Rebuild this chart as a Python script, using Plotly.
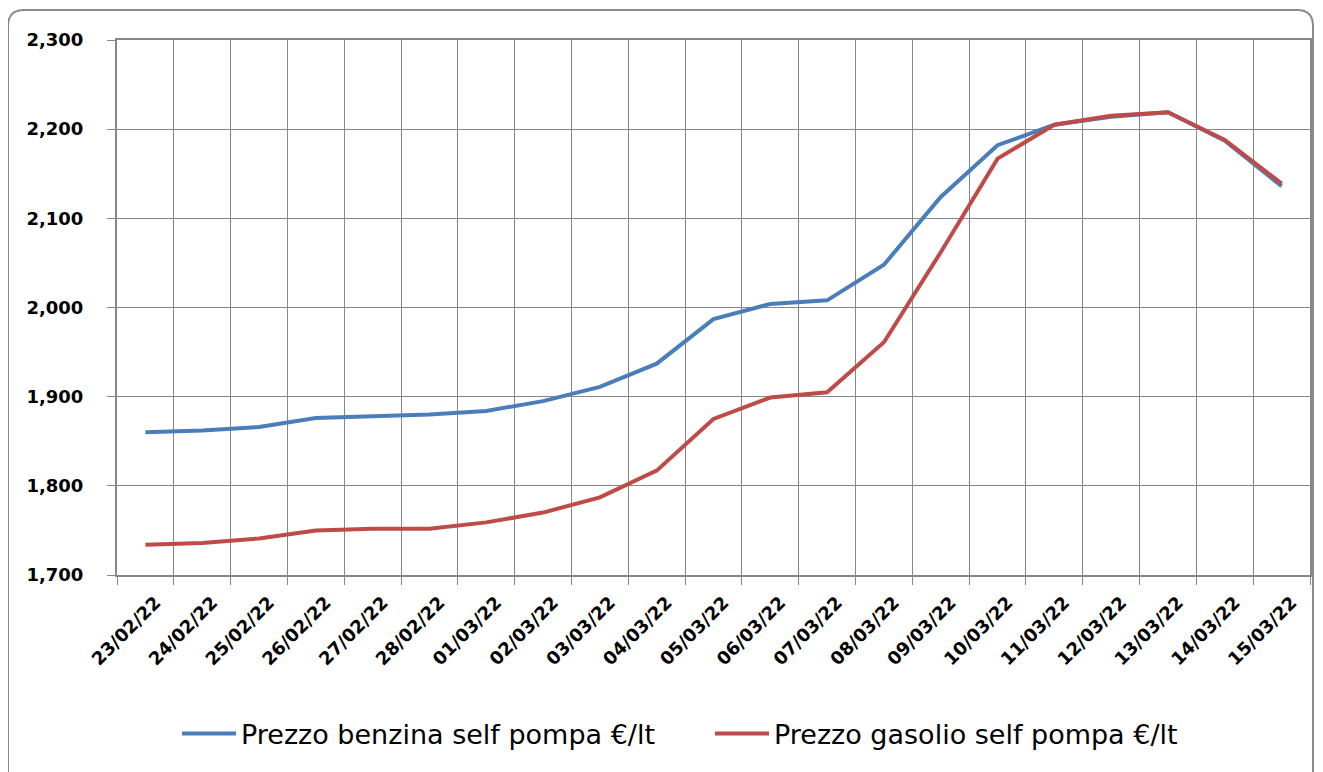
import plotly.graph_objects as go

dates = ["23/02/22", "24/02/22", "25/02/22", "26/02/22", "27/02/22", "28/02/22", "01/03/22",
         "02/03/22", "03/03/22", "04/03/22", "05/03/22", "06/03/22", "07/03/22", "08/03/22",
         "09/03/22", "10/03/22", "11/03/22", "12/03/22", "13/03/22", "14/03/22", "15/03/22"]
benzina = [1.860, 1.862, 1.866, 1.876, 1.878, 1.880, 1.884, 1.895, 1.911, 1.937, 1.987,
           2.004, 2.008, 2.048, 2.124, 2.182, 2.205, 2.214, 2.219, 2.187, 2.136]
gasolio = [1.734, 1.736, 1.741, 1.750, 1.752, 1.752, 1.759, 1.770, 1.787, 1.817, 1.875,
           1.899, 1.905, 1.961, 2.062, 2.167, 2.205, 2.215, 2.219, 2.188, 2.139]
y_ticks = [1.7, 1.8, 1.9, 2.0, 2.1, 2.2, 2.3]

# page has an 8px body margin; size the figure so the plot lands where the reference has it
OFF = 8
W, H = 1323 - OFF, 772 - OFF
PL, PR, PT, PB = 117, 1310, 40, 575          # plot area in page pixels
L, R, T, B = PL - OFF, (OFF + W) - PR, PT - OFF, (OFF + H) - PB
pw, ph = W - L - R, H - T - B

def px_x(p):
    return (p - PL) / pw

def px_y(p):
    return (PB - p) / ph

fig = go.Figure()
fig.add_trace(go.Scatter(x=dates, y=benzina, mode="lines", name="Prezzo benzina self pompa €/lt",
                         line=dict(color="#4a7ebb", width=4)))
fig.add_trace(go.Scatter(x=dates, y=gasolio, mode="lines", name="Prezzo gasolio self pompa €/lt",
                         line=dict(color="#be4b48", width=4)))

# rounded outer chart border
x0, x1, y0, y1, r = px_x(8), px_x(1313), px_y(10), px_y(800), 16
rx, ry = r / pw, r / ph
path = (f"M {x0},{y0 - ry} L {x0},{y1} L {x1},{y1} L {x1},{y0 - ry} "
        f"Q {x1},{y0} {x1 - rx},{y0} L {x0 + rx},{y0} Q {x0},{y0} {x0},{y0 - ry} Z")
fig.add_shape(type="path", path=path, xref="paper", yref="paper",
              line=dict(color="#8a8a8a", width=2), layer="below")

fig.update_layout(
    width=W, height=H,
    margin=dict(l=L, r=R, t=T, b=B, autoexpand=False),
    paper_bgcolor="white", plot_bgcolor="white",
    separators=",.",
    showlegend=True,
    legend=dict(orientation="h", x=px_x(177), xanchor="left", y=px_y(734), yanchor="middle",
                font=dict(family="DejaVu Sans", size=27, color="black"), itemwidth=54,
                entrywidth=464, entrywidthmode="pixels", bgcolor="rgba(0,0,0,0)"),
    xaxis=dict(type="category", tickson="boundaries", showgrid=True, gridcolor="#878787", gridwidth=1,
               showline=True, linecolor="#878787", linewidth=2, mirror=True, automargin=False,
               ticks="outside", ticklen=8, tickcolor="#878787", tickangle=-45,
               ticklabelstandoff=8, ticklabelshift=10,
               tickfont=dict(family="DejaVu Sans", size=18, color="black", weight="bold"),
               range=[-0.5, 20.5]),
    yaxis=dict(range=[1.7, 2.3], tickvals=y_ticks, tickformat=".3f", showgrid=True, automargin=False,
               gridcolor="#878787", gridwidth=1, showline=True, linecolor="#878787", linewidth=2,
               mirror=True, ticks="outside", ticklen=8, tickcolor="#878787", ticklabelstandoff=20,
               tickfont=dict(family="DejaVu Sans", size=18, color="black", weight="bold"),
               zeroline=False),
)

fig.write_html("out.html")
